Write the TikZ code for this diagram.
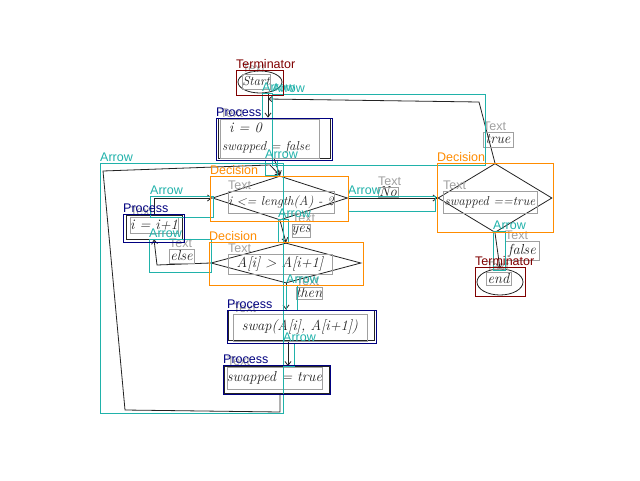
\documentclass[tikz,border=0pt]{standalone}
\usepackage{fontspec}
\setsansfont{Liberation Sans}
\usetikzlibrary{shapes.geometric, arrows.meta}
\definecolor{termc}{RGB}{128,0,0}
\definecolor{procc}{RGB}{0,0,128}
\definecolor{decc}{RGB}{255,140,0}
\definecolor{arrc}{RGB}{32,178,170}
\definecolor{textc}{RGB}{160,160,160}
\definecolor{inkc}{RGB}{35,35,35}
\tikzset{
  ink/.style={draw=inkc, line width=0.8pt, inner sep=0pt},
  flow/.style={draw=inkc, line width=0.8pt, -{Straight Barb[length=4pt,width=6pt]}},
  hand/.style={font=\fontsize{14.5}{16}\selectfont\itshape, text=inkc, inner sep=0pt},
  handsmall/.style={hand, font=\fontsize{13}{15}\selectfont\itshape},
  ann/.style={draw=#1, line width=0.9pt},
  lbl/.style={text=#1, anchor=south west, inner sep=0pt, yshift=1pt,
    font=\fontsize{12.5}{12.5}\selectfont\sffamily},
}
% annotation box: name, colour, x1, y1, x2, y2, caption
\newcommand{\annot}[7]{%
  \draw[ann=#2] (#3,#4) rectangle (#5,#6);
  \node[lbl=#2] (#1) at (#3,#4) {#7};}
\begin{document}
\begin{tikzpicture}[x=1pt,y=-1pt]
\fill[white] (0,0) rectangle (640,480);
\useasboundingbox (0,0) rectangle (640,480);

% hand-drawn flowchart shapes
\node[ink, ellipse, minimum width=44pt, minimum height=22pt] (start) at (260,82) {};
\node[ink, minimum width=112pt, minimum height=40pt] (init) at (274,138) {};
\node[ink, diamond, minimum width=135pt, minimum height=44pt] (dec1) at (280,198) {};
\node[ink, diamond, minimum width=150pt, minimum height=40pt] (dec2) at (286,263) {};
\node[ink, diamond, minimum width=114pt, minimum height=69pt] (dec3) at (495,198) {};
\node[ink, minimum width=56pt, minimum height=24pt] (inc) at (154,227) {};
\node[ink, minimum width=146pt, minimum height=30pt] (swap) at (301,325) {};
\node[ink, minimum width=105pt, minimum height=27pt] (setflag) at (277,380) {};
\node[ink, ellipse, minimum width=46pt, minimum height=26pt] (end) at (500,282) {};

% handwritten texts
\node[handsmall] (tstart) at (256,81.5) {Start};
\node[hand, anchor=west] (tinit1) at (229,128) {i = 0};
\node[handsmall, anchor=west] (tinit2) at (222,147) {swapped = false};
\node[handsmall] (tdec1) at (281,202) {i <= length(A) - 2};
\node[hand] (tinc) at (154,225) {i = i+1};
\node[hand] (telse) at (181.5,256) {else};
\node[hand] (tyes) at (301,230.5) {yes};
\node[hand] (tdec2) at (280,264) {A[i] > A[i+1]};
\node[hand] (tthen) at (309,293) {then};
\node[hand] (tswap) at (300,327) {swap(A[i], A[i+1])};
\node[hand] (tflag) at (274.5,378) {swapped = true};
\node[hand] (tno) at (388,192) {No};
\node[handsmall] (tdec3) at (490,202) {swapped ==true};
\node[hand] (ttrue) at (498,139.5) {true};
\node[hand] (tfalse) at (522,250.5) {false};
\node[hand] (tend) at (498.5,278.5) {end};

% hand-drawn connectors
\coordinate (join) at (268,99);
\coordinate (c5) at (288,0);
\coordinate (l1) at (280,412);
\coordinate (l2) at (125,410);
\coordinate (l3) at (103,171);
\coordinate (l4) at (270,165);
\coordinate (e1) at (157,265);
\coordinate (t1) at (479,102);
\draw[flow] (start.south -| join) -- (init.north -| join);
\draw[flow] (init.south) -- (dec1.north);
\draw[flow] (dec1.south) -- (dec2.north);
\draw[flow] (dec2.south) -- (dec2.south |- swap.north);
\draw[flow] (swap.south -| c5) -- (setflag.north -| c5);
\draw[flow] (setflag.south -| l1) -- (l1) -- (l2) -- (l3) -- (l4) -- (dec1.north);
\draw[flow] (dec2.west) -- (e1) -- (inc.south);
\draw[flow] (inc.north) |- (dec1.west);
\draw[flow] (dec1.east) -- (dec3.west);
\draw[flow] (dec3.north) -- (t1) -- (join);
\draw[flow] (dec3.south) -- (end.north);

% annotation boxes: text regions
\annot{gt1}{textc}{242}{74}{270}{89}{Text}
\annot{gt2}{textc}{220}{119}{319}{158}{Text}
\annot{gt3}{textc}{228}{191}{334}{213}{Text}
\annot{gt4}{textc}{130}{217}{178}{233}{Text}
\annot{gt5}{textc}{169}{249}{194}{263}{Text}
\annot{gt6}{textc}{292}{224}{310}{237}{Text}
\annot{gt7}{textc}{228}{254}{332}{274}{Text}
\annot{gt8}{textc}{296}{287}{322}{299}{Text}
\annot{gt9}{textc}{233}{314}{367}{341}{Text}
\annot{gt10}{textc}{227}{367}{322}{389}{Text}
\annot{gt11}{textc}{378}{187}{398}{197}{Text}
\annot{gt12}{textc}{443}{191}{537}{213}{Text}
\annot{gt13}{textc}{483}{132}{513}{147}{Text}
\annot{gt14}{textc}{505}{241}{539}{260}{Text}
\annot{gt15}{textc}{486}{272}{511}{285}{Text}

% annotation boxes: connectors
\annot{ga1}{arrc}{262}{93}{272}{118}{Arrow}
\annot{ga2}{arrc}{265}{160}{277}{175}{Arrow}
\annot{ga3}{arrc}{100}{163}{283}{413}{Arrow}
\annot{ga4}{arrc}{150}{196}{213}{217}{Arrow}
\annot{ga5}{arrc}{149}{239}{211}{272}{Arrow}
\annot{ga6}{arrc}{278}{219}{288}{242}{Arrow}
\annot{ga7}{arrc}{286}{285}{297}{310}{Arrow}
\annot{ga8}{arrc}{283}{343}{294}{366}{Arrow}
\annot{ga9}{arrc}{348}{196}{435}{211}{Arrow}
\annot{ga10}{arrc}{272}{94}{485}{165}{Arrow}
\annot{ga11}{arrc}{493}{231}{505}{270}{Arrow}

% annotation boxes: shapes
\annot{gp1}{procc}{216}{118}{332}{160}{Process}
\annot{gp2}{procc}{123}{214}{184}{242}{Process}
\annot{gp3}{procc}{227}{310}{376}{343}{Process}
\annot{gp4}{procc}{223}{365}{330}{394}{Process}
\annot{gd1}{decc}{210}{176}{348}{221}{Decision}
\annot{gd2}{decc}{209}{242}{363}{285}{Decision}
\annot{gd3}{decc}{437}{163}{553}{232}{Decision}
\annot{gs1}{termc}{236}{70}{283}{95}{Terminator}
\annot{gs2}{termc}{475}{267}{525}{296}{Terminator}
\end{tikzpicture}
\end{document}
